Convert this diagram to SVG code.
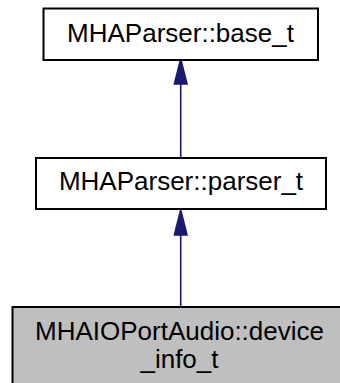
<svg xmlns="http://www.w3.org/2000/svg" width="340" height="383" viewBox="0 0 340 383">
<style>
.box{fill:#ffffff;stroke:#000000;stroke-width:2}
.cur{fill:#bfbfbf;stroke:#000000;stroke-width:2}
.lbl{font-family:"Liberation Sans",Arial,sans-serif;font-size:26px;fill:#000000;text-anchor:middle}
.edge{stroke:#191970;stroke-width:1.6;fill:none}
.head{fill:#191970;stroke:#191970;stroke-width:1.6}
</style>
<rect width="340" height="383" fill="#ffffff"/>
<g id="connectors">
<path class="edge" d="M180.7,84 V158"/>
<polygon class="head" points="180.7,59 187,84 174.4,84"/>
<path class="edge" d="M180.7,235 V307"/>
<polygon class="head" points="180.7,210 187,235 174.4,235"/>
</g>
<g id="node-base">
<rect class="box" x="43.5" y="8.5" width="274.5" height="51.5"/>
<text class="lbl" x="180.5" y="42">MHAParser::base_t</text>
</g>
<g id="node-parser">
<rect class="box" x="36" y="158" width="290" height="51"/>
<text class="lbl" x="181" y="190">MHAParser::parser_t</text>
</g>
<g id="node-device">
<rect class="cur" x="12.5" y="307" width="337" height="80"/>
<text class="lbl" x="179.5" y="340">MHAIOPortAudio::device</text>
<text class="lbl" x="179.5" y="368">_info_t</text>
</g>
</svg>
